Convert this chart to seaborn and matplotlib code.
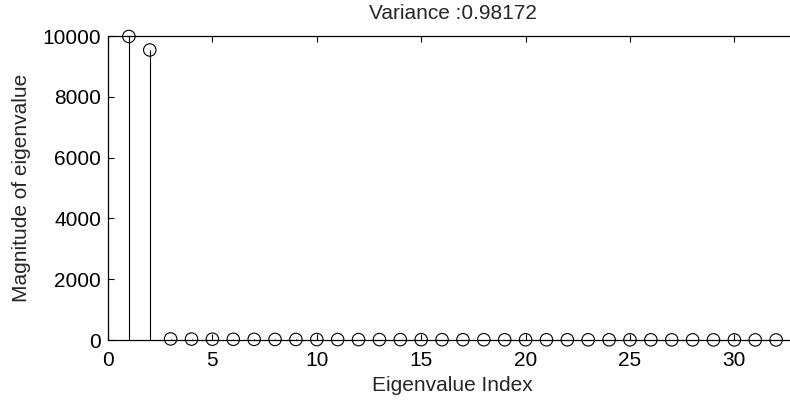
import numpy as np
import pandas as pd
import seaborn as sns
import matplotlib
matplotlib.use("Agg")
import matplotlib.pyplot as plt

# Eigenvalue spectrum: two dominant components followed by a small tail
indices = list(range(1, 33))
magnitudes = [9985, 9540,
              35, 30, 27, 24, 21, 19, 17, 15, 14, 13,
              13, 12, 11, 10.5, 10, 9.5, 9, 8.5, 8, 7.5,
              7, 6.5, 6, 5.5, 5, 4.5, 4, 3.5, 3, 2.5]
x_ticks = [0, 5, 10, 15, 20, 25, 30]
y_ticks = [0, 2000, 4000, 6000, 8000, 10000]
title_text = "Variance :0.98172"

df = pd.DataFrame({"index": indices, "magnitude": magnitudes})

sns.set_style("white")
plt.rcParams["font.family"] = ["Liberation Sans", "DejaVu Sans"]

FS = 15

fig = plt.figure(figsize=(7.9, 4.04), dpi=100)
# the plotting box runs slightly past the right edge of the canvas
ax = fig.add_axes([108 / 790, 64 / 404, 689 / 790, 304 / 404])
ax.set_frame_on(False)

# stems
ax.vlines(df["index"], 0, df["magnitude"], colors="black", linewidth=0.8, zorder=1)
# open circle heads
sns.scatterplot(data=df, x="index", y="magnitude", ax=ax, marker="o",
                s=80, facecolor="none", edgecolor="black", linewidth=0.8,
                clip_on=False, zorder=1, legend=False)

ax.set_xlim(0, 33)
ax.set_ylim(0, 10000)
ax.set_xticks(x_ticks)
ax.set_yticks(y_ticks)
ax.set_axisbelow(False)

# box lines: baseline, top edge and left edge
ax.axhline(0, color="black", linewidth=0.9, zorder=3, clip_on=False)
ax.axhline(10000, color="black", linewidth=0.9, zorder=3, clip_on=False)
ax.axvline(0, color="black", linewidth=0.9, zorder=3, clip_on=False)

ax.tick_params(axis="both", which="major", direction="in", length=4.5,
               width=0.8, color="black", labelsize=FS, labelcolor="black",
               top=True, right=False, bottom=True, left=True)
ax.tick_params(axis="x", pad=8)
ax.tick_params(axis="y", pad=5)

ax.set_xlabel("Eigenvalue Index", fontsize=FS, labelpad=4)
ax.set_ylabel("Magnitude of eigenvalue", fontsize=FS, labelpad=8)
ax.set_title(title_text, fontsize=FS, pad=12)

fig.savefig("out.png", dpi=100)
